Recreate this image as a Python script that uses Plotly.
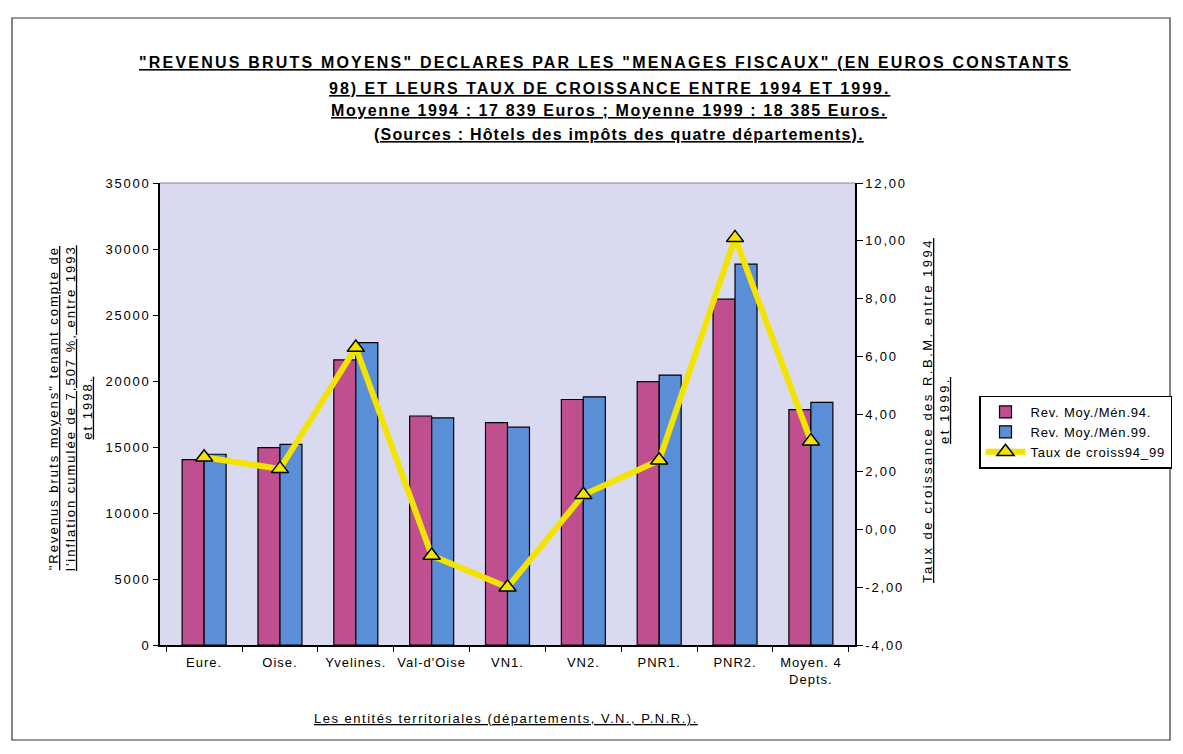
import plotly.graph_objects as go

categories = ["Eure.", "Oise.", "Yvelines.", "Val-d'Oise", "VN1.", "VN2.", "PNR1.", "PNR2.", "Moyen. 4<br>Depts."]
rev94 = [14050, 14950, 21600, 17350, 16850, 18600, 19950, 26200, 17839]
rev99 = [14450, 15200, 22900, 17200, 16500, 18800, 20450, 28850, 18385]
taux = [2.5, 2.1, 6.3, -0.9, -2.0, 1.2, 2.4, 10.1, 3.06]

left_ticks = [0, 5000, 10000, 15000, 20000, 25000, 30000, 35000]
left_labels = ["0", "5000", "10000", "15000", "20000", "25000", "30000", "35000"]
right_ticks = [-4, -2, 0, 2, 4, 6, 8, 10, 12]
right_labels = ["-4,00", "-2,00", "0,00", "2,00", "4,00", "6,00", "8,00", "10,00", "12,00"]

OFF = 8  # page body margin
W, H = 1183 - OFF, 754 - OFF
# plot area in page pixel coordinates
L, R, T, B = 160, 855, 183, 645
FONT = "Liberation Sans, Arial, sans-serif"


def sp(txt, ls):
    return "<span style='letter-spacing:%.1fpx'>%s</span>" % (ls, txt)


def px(x):
    return (x - L) / (R - L)


def py(y):
    return (B - y) / (B - T)


fig = go.Figure()
fig.add_trace(go.Bar(x=categories, y=rev94, name=sp("Rev. Moy./Mén.94.", 0.8),
                     marker=dict(color="#BF4F8E", line=dict(color="black", width=1.2))))
fig.add_trace(go.Bar(x=categories, y=rev99, name=sp("Rev. Moy./Mén.99.", 0.8),
                     marker=dict(color="#5A8ED6", line=dict(color="black", width=1.2))))
fig.add_trace(go.Scatter(x=categories, y=taux, name=sp("Taux de croiss94_99", 0.8), yaxis="y2",
                         mode="lines+markers",
                         line=dict(color="#F2E400", width=6),
                         marker=dict(symbol="triangle-up", size=15, color="#F2E400",
                                     line=dict(color="black", width=1.5))))

title_lines = [
    ('"REVENUS BRUTS MOYENS" DECLARES PAR LES "MENAGES FISCAUX" (EN EUROS CONSTANTS', 605, 63, 2.2),
    ('98) ET LEURS TAUX DE CROISSANCE ENTRE 1994 ET 1999.', 609, 88, 2.0),
    ('Moyenne 1994 : 17 839 Euros ; Moyenne 1999 : 18 385 Euros.', 609, 111, 1.6),
    ('(Sources : Hôtels des impôts des quatre départements).', 619, 135, 1.2),
]
annotations = []
for txt, x, y, ls in title_lines:
    annotations.append(dict(text="<u><b>" + sp(txt, ls) + "</b></u>", x=px(x), y=py(y),
                            xref="paper", yref="paper",
                            xanchor="center", yanchor="middle", showarrow=False,
                            font=dict(family=FONT, size=16, color="black")))

annotations.append(dict(
    text=("<u>" + sp('"Revenus bruts moyens" tenant compte de', 2.0) + "</u><br><u>"
          + sp("l'inflation cumulée de 7,507 %, entre 1993", 2.0) + "</u><br><u>" + sp("et 1998.", 2.0) + "</u>"),
    x=px(70), y=py(408), xref="paper", yref="paper", textangle=-90,
    xanchor="center", yanchor="middle", showarrow=False, align="center",
    font=dict(family=FONT, size=13, color="black")))
annotations.append(dict(
    text="<u>" + sp("Taux de croissance des R.B.M. entre 1994", 2.5) + "</u><br><u>" + sp("et 1999.", 2.5) + "</u>",
    x=px(936), y=py(411), xref="paper", yref="paper", textangle=-90,
    xanchor="center", yanchor="middle", showarrow=False, align="center",
    font=dict(family=FONT, size=13, color="black")))
annotations.append(dict(
    text="<u>" + sp("Les entités territoriales (départements, V.N., P.N.R.).", 1.5) + "</u>",
    x=px(506), y=py(718), xref="paper", yref="paper",
    xanchor="center", yanchor="middle", showarrow=False,
    font=dict(family=FONT, size=13, color="black")))

fig.update_layout(
    width=W, height=H,
    margin=dict(l=L - OFF, r=(W + OFF) - R, t=T - OFF, b=(H + OFF) - B, autoexpand=False),
    paper_bgcolor="white", plot_bgcolor="#D9D9F0",
    barmode="group", bargap=0.42, bargroupgap=0,
    font=dict(family=FONT, size=12, color="black"),
    showlegend=True,
    legend=dict(x=px(979), y=py(432), xanchor="left", yanchor="middle",
                bordercolor="black", borderwidth=1.5, bgcolor="white",
                font=dict(family=FONT, size=13, color="black"),
                itemwidth=40),
    xaxis=dict(showline=True, linecolor="black", linewidth=1.5, mirror=False,
               ticks="outside", ticklen=5, tickcolor="black", tickson="boundaries",
               tickvals=categories, ticktext=[sp(c, 1.0) for c in categories],
               ticklabelstandoff=5,
               tickangle=0, showgrid=False, tickfont=dict(family=FONT, size=13), fixedrange=True),
    yaxis=dict(range=[0, 35000], tickvals=left_ticks, ticktext=[sp(t, 1.8) for t in left_labels],
               showline=True, linecolor="black", linewidth=1.5,
               ticks="outside", ticklen=5, tickcolor="black", showgrid=False,
               zeroline=False, tickfont=dict(family=FONT, size=13)),
    yaxis2=dict(range=[-4, 12], tickvals=right_ticks, ticktext=[sp(t, 1.8) for t in right_labels],
                overlaying="y", side="right",
                showline=True, linecolor="black", linewidth=1.5,
                ticks="outside", ticklen=6, tickcolor="black", showgrid=False,
                zeroline=False, tickfont=dict(family=FONT, size=13)),
    annotations=annotations,
    shapes=[
        dict(type="rect", xref="paper", yref="paper", x0=px(12), x1=px(1170), y0=py(740), y1=py(18),
             line=dict(color="#333333", width=1.2), fillcolor="rgba(0,0,0,0)", layer="below"),
        dict(type="line", xref="paper", yref="paper", x0=0, x1=1, y0=1, y1=1,
             line=dict(color="#888888", width=1)),
    ],
)

fig.write_html("out.html")
